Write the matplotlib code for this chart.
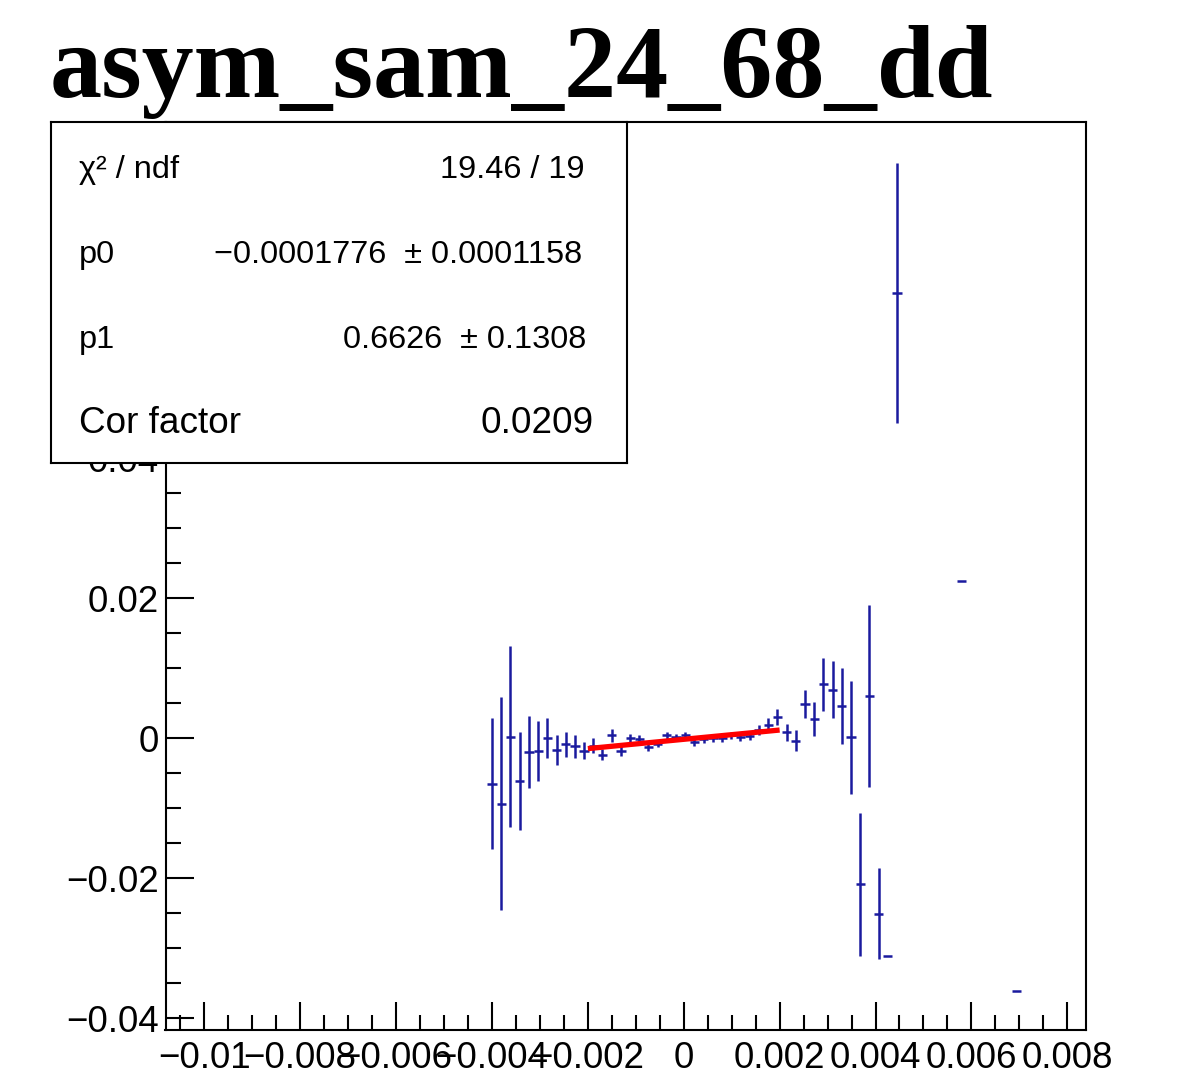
import numpy as np
import matplotlib
matplotlib.use("Agg")
import matplotlib.pyplot as plt
from matplotlib.ticker import MultipleLocator, FuncFormatter

# ---------------- data ----------------
title = "asym_sam_24_68_dd"

x_centers = [
    -0.00399755, -0.00380565, -0.00361375, -0.00342185, -0.00322995,
    -0.00303805, -0.00284615, -0.00265425, -0.00246235, -0.00227045,
    -0.00207855, -0.00188665, -0.00169475, -0.00150285, -0.00131095,
    -0.00111905, -0.00092715, -0.00073525, -0.00054335, -0.00035145,
    -0.00015955, 0.00003235, 0.00022425, 0.00041615, 0.00060805,
    0.00079995, 0.00099185, 0.00118375, 0.00137565, 0.00156755,
    0.00175945, 0.00195135, 0.00214325, 0.00233515, 0.00252705,
    0.00271895, 0.00291085, 0.00310275, 0.00329465, 0.00348655,
    0.00367845, 0.00387035, 0.00406225, 0.00425415, 0.00444605,
    0.00578935, 0.00694075,
]
y_values = [
    -0.0065, -0.0094, 0.0002, -0.0061, -0.0020,
    -0.0019, 0.0000, -0.0017, -0.0009, -0.0012,
    -0.0018, -0.0011, -0.0024, 0.0004, -0.0018,
    0.0000, -0.0001, -0.0013, -0.0008, 0.0004,
    0.0001, 0.0004, -0.0006, -0.0002, 0.0000,
    0.0000, 0.0004, 0.0002, 0.0003, 0.0011,
    0.0019, 0.0030, 0.0008, -0.0004, 0.0049,
    0.0027, 0.0077, 0.0069, 0.0046, 0.0001,
    -0.0209, 0.0060, -0.0251, -0.0312, 0.0636,
    0.0225, -0.0361,
]
y_errors = [
    0.0093, 0.0152, 0.0129, 0.0070, 0.0052,
    0.0043, 0.0028, 0.0022, 0.0018, 0.0016,
    0.0012, 0.0011, 0.0008, 0.0009, 0.0007,
    0.0006, 0.0006, 0.0006, 0.0005, 0.0005,
    0.0005, 0.0005, 0.0005, 0.0005, 0.0005,
    0.0005, 0.0005, 0.0006, 0.0006, 0.0007,
    0.0009, 0.0011, 0.0012, 0.0015, 0.0020,
    0.0024, 0.0038, 0.0041, 0.0054, 0.0081,
    0.0102, 0.0130, 0.0065, 0.0, 0.0186,
    0.0, 0.0,
]
bin_width = 0.0001919

fit_p0 = -0.0001776
fit_p1 = 0.6626
fit_range = [-0.002, 0.002]

stat_labels = ["\u03c7\u00b2 / ndf", "p0", "p1", "Cor factor"]
stat_values = ["19.46 / 19", "\u22120.0001776  \u00b1 0.0001158",
               "0.6626  \u00b1 0.1308", "0.0209"]

x_ticks = [-0.01, -0.008, -0.006, -0.004, -0.002, 0, 0.002, 0.004, 0.006, 0.008]
y_ticks = [-0.04, -0.02, 0, 0.02, 0.04, 0.06, 0.08]
y_hidden_labels = [0.06, 0.08]   # fully covered by the stats box in the reference

# ---------------- figure ----------------
W, H = 1195, 1088
fig = plt.figure(figsize=(W / 100, H / 100), dpi=100)
fig.patch.set_facecolor("white")

def fx(px):
    return px / W

def fy(py):
    return 1 - py / H

ax_l, ax_r, ax_t, ax_b = 165.5, 1085.5, 122, 1030
ax = fig.add_axes([fx(ax_l), fy(ax_b), (ax_r - ax_l) / W, (ax_b - ax_t) / H])
ax.set_xlim(-0.01081, 0.00838)
ax.set_ylim(-0.0417, 0.0880)

blue = "#1a1a9e"
ax.errorbar(x_centers, y_values, xerr=bin_width / 2, yerr=y_errors, fmt="none",
            ecolor=blue, elinewidth=1.8, capsize=0, zorder=3)

fx_line = np.array(fit_range)
ax.plot(fx_line, fit_p0 + fit_p1 * fx_line, color="red", lw=3.8,
        solid_capstyle="butt", zorder=4)

sans = ["Liberation Sans", "DejaVu Sans"]
ax.set_xticks(x_ticks)
ax.set_yticks(y_ticks)
ax.xaxis.set_minor_locator(MultipleLocator(0.0005))
ax.yaxis.set_minor_locator(MultipleLocator(0.005))

def fmt(v, pos=None):
    if abs(v) < 1e-12:
        return "0"
    return ("%g" % v).replace("-", "\u2212")

def fmt_y(v, pos=None):
    if any(abs(v - h) < 1e-9 for h in y_hidden_labels):
        return ""
    return fmt(v, pos)

ax.xaxis.set_major_formatter(FuncFormatter(fmt))
ax.yaxis.set_major_formatter(FuncFormatter(fmt_y))
ax.tick_params(which="both", direction="in", top=False, right=False,
               width=1.5, colors="black")
ax.tick_params(which="major", length=20)
ax.tick_params(which="minor", length=11)
ax.tick_params(axis="x", which="major", pad=8)
ax.tick_params(axis="y", which="major", pad=5)
for lab in ax.get_xticklabels() + ax.get_yticklabels():
    lab.set_fontfamily(sans)
    lab.set_fontsize(26.5)
for sp in ax.spines.values():
    sp.set_linewidth(1.5)
    sp.set_color("black")

# title
fig.text(fx(50), fy(97), title, fontsize=75, fontweight="bold",
         family=["Liberation Serif", "DejaVu Serif"], ha="left", va="baseline")

# stats box
bl, br, bt, bb = 51, 627, 122, 463
sb = fig.add_axes([fx(bl), fy(bb), (br - bl) / W, (bb - bt) / H])
sb.set_xlim(0, 1)
sb.set_ylim(0, 1)
sb.set_xticks([])
sb.set_yticks([])
sb.set_facecolor("white")
for sp in sb.spines.values():
    sp.set_linewidth(1.5)
    sp.set_color("black")

bw = br - bl
bh = bb - bt
baselines = [178, 263, 348, 433]
right_ends = [584, 582, 586.5, 594]
sizes = [23.4, 23.4, 23.4, 26.6]
for lab, val, base, rend, fs in zip(stat_labels, stat_values, baselines, right_ends, sizes):
    yy = (bb - base) / bh
    sb.text((79 - bl) / bw, yy, lab, fontsize=fs, family=sans,
            ha="left", va="baseline", color="black")
    sb.text((rend - bl) / bw, yy, val, fontsize=fs, family=sans,
            ha="right", va="baseline", color="black")

fig.savefig("out.png", dpi=100)
